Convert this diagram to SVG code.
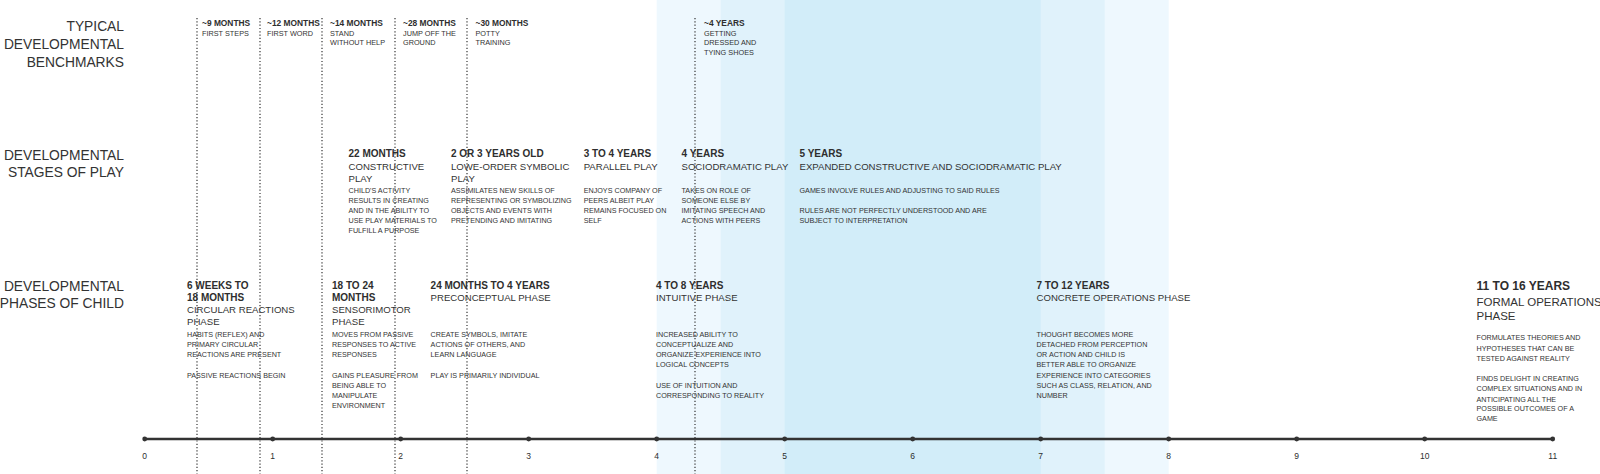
<svg xmlns="http://www.w3.org/2000/svg" width="1600" height="474" viewBox="0 0 1600 474">
<style>
text{font-family:"Liberation Sans",Arial,sans-serif;fill:#2e2e2e}
.title{font-size:13.8px;text-anchor:end;fill:#333}
.bh{font-size:8.4px;font-weight:bold}
.bb{font-size:7.3px;fill:#333}
.h{font-size:10px;font-weight:bold}
.s{font-size:9.6px;fill:#333}
.d{font-size:7.2px;fill:#333}
.hl{font-size:12px;font-weight:bold}
.sl{font-size:11.5px;fill:#333}
.tl{font-size:8.5px;text-anchor:middle}
.dot{stroke:#333;stroke-width:1.2;stroke-dasharray:1.2 2.1;fill:none}
.axis{stroke:#333;stroke-width:2.3}
.tick{fill:#333}
</style>
<rect width="1600" height="474" fill="#fff"/>
<g id="bands">
<rect x="656.7" y="0" width="512" height="474" fill="#eef8fe"/>
<rect x="720.7" y="0" width="384" height="474" fill="#e0f2fb"/>
<rect x="784.7" y="0" width="256" height="474" fill="#d2edf9"/>
</g>
<g id="row-titles">
<text class="title" x="124" y="30.5">TYPICAL</text>
<text class="title" x="124" y="49">DEVELOPMENTAL</text>
<text class="title" x="124" y="67">BENCHMARKS</text>
<text class="title" x="124" y="160">DEVELOPMENTAL</text>
<text class="title" x="124" y="176.5">STAGES OF PLAY</text>
<text class="title" x="124" y="290.5">DEVELOPMENTAL</text>
<text class="title" x="124" y="308">PHASES OF CHILD</text>
</g>
<g id="connectors">
<line class="dot" x1="197" y1="18" x2="197" y2="474"/>
<line class="dot" x1="260" y1="18" x2="260" y2="474"/>
<line class="dot" x1="322" y1="18" x2="322" y2="474"/>
<line class="dot" x1="395" y1="18" x2="395" y2="474"/>
<line class="dot" x1="467" y1="18" x2="467" y2="474"/>
<line class="dot" x1="695" y1="18" x2="695" y2="474"/>
</g>
<g id="bm-9"><text class="bh" x="202" y="25.5">~9 MONTHS</text><text class="bb" x="202" y="35.5">FIRST STEPS</text></g>
<g id="bm-12"><text class="bh" x="267" y="25.5">~12 MONTHS</text><text class="bb" x="267" y="35.5">FIRST WORD</text></g>
<g id="bm-14"><text class="bh" x="330" y="25.5">~14 MONTHS</text><text class="bb" x="330" y="35.5">STAND</text><text class="bb" x="330" y="45.3">WITHOUT HELP</text></g>
<g id="bm-28"><text class="bh" x="403" y="25.5">~28 MONTHS</text><text class="bb" x="403" y="35.5">JUMP OFF THE</text><text class="bb" x="403" y="45.3">GROUND</text></g>
<g id="bm-30"><text class="bh" x="475.5" y="25.5">~30 MONTHS</text><text class="bb" x="475.5" y="35.5">POTTY</text><text class="bb" x="475.5" y="45.3">TRAINING</text></g>
<g id="bm-4y"><text class="bh" x="704" y="25.5">~4 YEARS</text><text class="bb" x="704" y="35.5">GETTING</text><text class="bb" x="704" y="45.3">DRESSED AND</text><text class="bb" x="704" y="55">TYING SHOES</text></g>
<g id="play-22m">
<text class="h" x="348.5" y="157">22 MONTHS</text>
<text class="s" x="348.5" y="170">CONSTRUCTIVE</text>
<text class="s" x="348.5" y="181.5">PLAY</text>
<text class="d" x="348.5" y="193">CHILD'S ACTIVITY</text>
<text class="d" x="348.5" y="203">RESULTS IN CREATING</text>
<text class="d" x="348.5" y="213">AND IN THE ABILITY TO</text>
<text class="d" x="348.5" y="223">USE PLAY MATERIALS TO</text>
<text class="d" x="348.5" y="233">FULFILL A PURPOSE</text>
</g>
<g id="play-2-3y">
<text class="h" x="451" y="157">2 OR 3 YEARS OLD</text>
<text class="s" x="451" y="170">LOWE-ORDER SYMBOLIC</text>
<text class="s" x="451" y="181.5">PLAY</text>
<text class="d" x="451" y="193">ASSIMILATES NEW SKILLS OF</text>
<text class="d" x="451" y="203">REPRESENTING OR SYMBOLIZING</text>
<text class="d" x="451" y="213">OBJECTS AND EVENTS WITH</text>
<text class="d" x="451" y="223">PRETENDING AND IMITATING</text>
</g>
<g id="play-3-4y">
<text class="h" x="583.7" y="157">3 TO 4 YEARS</text>
<text class="s" x="583.7" y="170">PARALLEL PLAY</text>
<text class="d" x="583.7" y="193">ENJOYS COMPANY OF</text>
<text class="d" x="583.7" y="203">PEERS ALBEIT PLAY</text>
<text class="d" x="583.7" y="213">REMAINS FOCUSED ON</text>
<text class="d" x="583.7" y="223">SELF</text>
</g>
<g id="play-4y">
<text class="h" x="681.5" y="157">4 YEARS</text>
<text class="s" x="681.5" y="170">SOCIODRAMATIC PLAY</text>
<text class="d" x="681.5" y="193">TAKES ON ROLE OF</text>
<text class="d" x="681.5" y="203">SOMEONE ELSE BY</text>
<text class="d" x="681.5" y="213">IMITATING SPEECH AND</text>
<text class="d" x="681.5" y="223">ACTIONS WITH PEERS</text>
</g>
<g id="play-5y">
<text class="h" x="799.5" y="157">5 YEARS</text>
<text class="s" x="799.5" y="170">EXPANDED CONSTRUCTIVE AND SOCIODRAMATIC PLAY</text>
<text class="d" x="799.5" y="193">GAMES INVOLVE RULES AND ADJUSTING TO SAID RULES</text>
<text class="d" x="799.5" y="213">RULES ARE NOT PERFECTLY UNDERSTOOD AND ARE</text>
<text class="d" x="799.5" y="223">SUBJECT TO INTERPRETATION</text>
</g>
<g id="phase-circular">
<text class="h" x="187" y="288.5">6 WEEKS TO</text>
<text class="h" x="187" y="300.8">18 MONTHS</text>
<text class="s" x="187" y="312.8">CIRCULAR REACTIONS</text>
<text class="s" x="187" y="325">PHASE</text>
<text class="d" x="187" y="336.5">HABITS (REFLEX) AND</text>
<text class="d" x="187" y="346.8">PRIMARY CIRCULAR</text>
<text class="d" x="187" y="357">REACTIONS ARE PRESENT</text>
<text class="d" x="187" y="377.5">PASSIVE REACTIONS BEGIN</text>
</g>
<g id="phase-sensorimotor">
<text class="h" x="332" y="288.5">18 TO 24</text>
<text class="h" x="332" y="300.8">MONTHS</text>
<text class="s" x="332" y="312.8">SENSORIMOTOR</text>
<text class="s" x="332" y="325">PHASE</text>
<text class="d" x="332" y="336.5">MOVES FROM PASSIVE</text>
<text class="d" x="332" y="346.8">RESPONSES TO ACTIVE</text>
<text class="d" x="332" y="357">RESPONSES</text>
<text class="d" x="332" y="377.5">GAINS PLEASURE FROM</text>
<text class="d" x="332" y="387.8">BEING ABLE TO</text>
<text class="d" x="332" y="398">MANIPULATE</text>
<text class="d" x="332" y="408.3">ENVIRONMENT</text>
</g>
<g id="phase-preconceptual">
<text class="h" x="430.6" y="288.5">24 MONTHS TO 4 YEARS</text>
<text class="s" x="430.6" y="300.8">PRECONCEPTUAL PHASE</text>
<text class="d" x="430.6" y="336.5">CREATE SYMBOLS, IMITATE</text>
<text class="d" x="430.6" y="346.8">ACTIONS OF OTHERS, AND</text>
<text class="d" x="430.6" y="357">LEARN LANGUAGE</text>
<text class="d" x="430.6" y="377.5">PLAY IS PRIMARILY INDIVIDUAL</text>
</g>
<g id="phase-intuitive">
<text class="h" x="656" y="288.5">4 TO 8 YEARS</text>
<text class="s" x="656" y="300.8">INTUITIVE PHASE</text>
<text class="d" x="656" y="336.5">INCREASED ABILITY TO</text>
<text class="d" x="656" y="346.8">CONCEPTUALIZE AND</text>
<text class="d" x="656" y="357">ORGANIZE EXPERIENCE INTO</text>
<text class="d" x="656" y="367.3">LOGICAL CONCEPTS</text>
<text class="d" x="656" y="387.8">USE OF INTUITION AND</text>
<text class="d" x="656" y="398">CORRESPONDING TO REALITY</text>
</g>
<g id="phase-concrete">
<text class="h" x="1036.5" y="288.5">7 TO 12 YEARS</text>
<text class="s" x="1036.5" y="300.8">CONCRETE OPERATIONS PHASE</text>
<text class="d" x="1036.5" y="336.5">THOUGHT BECOMES MORE</text>
<text class="d" x="1036.5" y="346.8">DETACHED FROM PERCEPTION</text>
<text class="d" x="1036.5" y="357">OR ACTION AND CHILD IS</text>
<text class="d" x="1036.5" y="367.3">BETTER ABLE TO ORGANIZE</text>
<text class="d" x="1036.5" y="377.5">EXPERIENCE INTO CATEGORIES</text>
<text class="d" x="1036.5" y="387.8">SUCH AS CLASS, RELATION, AND</text>
<text class="d" x="1036.5" y="398">NUMBER</text>
</g>
<g id="phase-formal">
<text class="hl" x="1476.5" y="290">11 TO 16 YEARS</text>
<text class="sl" x="1476.5" y="306">FORMAL OPERATIONS</text>
<text class="sl" x="1476.5" y="319.5">PHASE</text>
<text class="d" x="1476.5" y="340.4">FORMULATES THEORIES AND</text>
<text class="d" x="1476.5" y="350.6">HYPOTHESES THAT CAN BE</text>
<text class="d" x="1476.5" y="360.8">TESTED AGAINST REALITY</text>
<text class="d" x="1476.5" y="381.2">FINDS DELIGHT IN CREATING</text>
<text class="d" x="1476.5" y="391.4">COMPLEX SITUATIONS AND IN</text>
<text class="d" x="1476.5" y="401.6">ANTICIPATING ALL THE</text>
<text class="d" x="1476.5" y="411.2">POSSIBLE OUTCOMES OF A</text>
<text class="d" x="1476.5" y="421">GAME</text>
</g>
<g id="axis">
<line class="axis" x1="144.7" y1="439" x2="1552.7" y2="439"/>
<circle class="tick" cx="144.7" cy="439" r="2.4"/>
<circle class="tick" cx="272.7" cy="439" r="2.4"/>
<circle class="tick" cx="400.7" cy="439" r="2.4"/>
<circle class="tick" cx="528.7" cy="439" r="2.4"/>
<circle class="tick" cx="656.7" cy="439" r="2.4"/>
<circle class="tick" cx="784.7" cy="439" r="2.4"/>
<circle class="tick" cx="912.7" cy="439" r="2.4"/>
<circle class="tick" cx="1040.7" cy="439" r="2.4"/>
<circle class="tick" cx="1168.7" cy="439" r="2.4"/>
<circle class="tick" cx="1296.7" cy="439" r="2.4"/>
<circle class="tick" cx="1424.7" cy="439" r="2.4"/>
<circle class="tick" cx="1552.7" cy="439" r="2.4"/>
<text class="tl" x="144.7" y="458.5">0</text>
<text class="tl" x="272.7" y="458.5">1</text>
<text class="tl" x="400.7" y="458.5">2</text>
<text class="tl" x="528.7" y="458.5">3</text>
<text class="tl" x="656.7" y="458.5">4</text>
<text class="tl" x="784.7" y="458.5">5</text>
<text class="tl" x="912.7" y="458.5">6</text>
<text class="tl" x="1040.7" y="458.5">7</text>
<text class="tl" x="1168.7" y="458.5">8</text>
<text class="tl" x="1296.7" y="458.5">9</text>
<text class="tl" x="1424.7" y="458.5">10</text>
<text class="tl" x="1552.7" y="458.5">11</text>
</g>
</svg>
